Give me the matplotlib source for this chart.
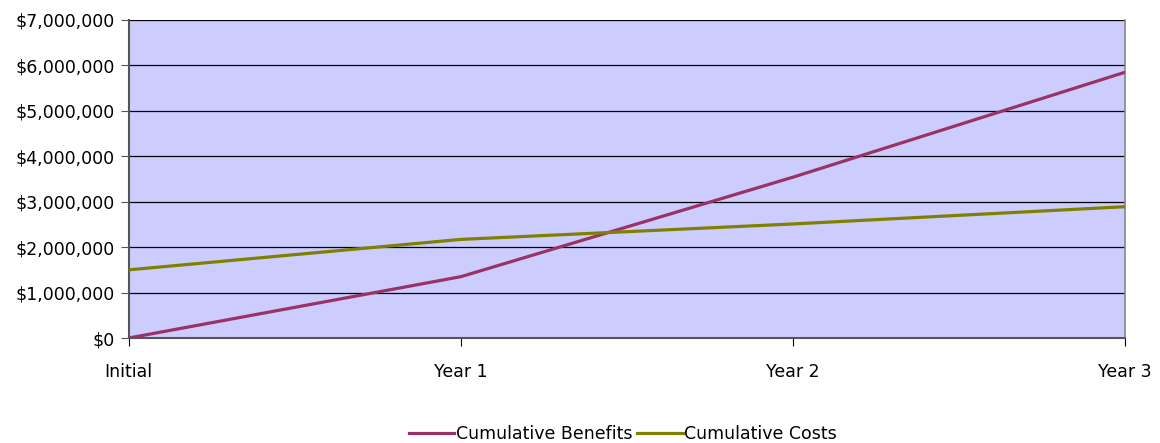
import matplotlib.pyplot as plt
from matplotlib.ticker import FuncFormatter

categories = ["Initial", "Year 1", "Year 2", "Year 3"]
benefits = [0, 1350000, 3540000, 5850000]
costs = [1500000, 2170000, 2510000, 2890000]

plt.rcParams['font.family'] = ['DejaVu Sans']

fig = plt.figure(figsize=(11.6, 4.43), dpi=100)
ax = fig.add_axes([0.111, 0.237, 0.859, 0.718])
ax.set_facecolor("#CCCCFF")

x = range(len(categories))
ax.plot(x, benefits, color="#993366", lw=2.3, label="Cumulative Benefits", zorder=3)
ax.plot(x, costs, color="#808000", lw=2.3, label="Cumulative Costs", zorder=3)

ax.set_xlim(0, len(categories) - 1)
ax.set_ylim(0, 7000000)
ax.set_yticks(range(0, 7000001, 1000000))
ax.yaxis.set_major_formatter(FuncFormatter(lambda v, p: f"${v:,.0f}"))
ax.set_xticks(list(x))
ax.set_xticklabels(categories)
ax.grid(axis="y", color="black", lw=0.9, zorder=1)
ax.set_axisbelow(True)

ax.spines["top"].set_visible(False)
ax.spines["right"].set_color("#888888")
ax.spines["right"].set_linewidth(1.2)
for s in ["left", "bottom"]:
    ax.spines[s].set_color("#555555")
    ax.spines[s].set_linewidth(1.5)

ax.tick_params(axis="y", labelsize=12.5, length=6, color="#555555", pad=4)
ax.tick_params(axis="x", labelsize=12.5, length=6, color="black", pad=12)

fig.legend(loc="lower center", ncol=2, frameon=False, fontsize=12.5,
           bbox_to_anchor=(0.537, -0.035), handlelength=2.6, columnspacing=0.3,
           handletextpad=0.1)

fig.savefig("out.png", dpi=100)
